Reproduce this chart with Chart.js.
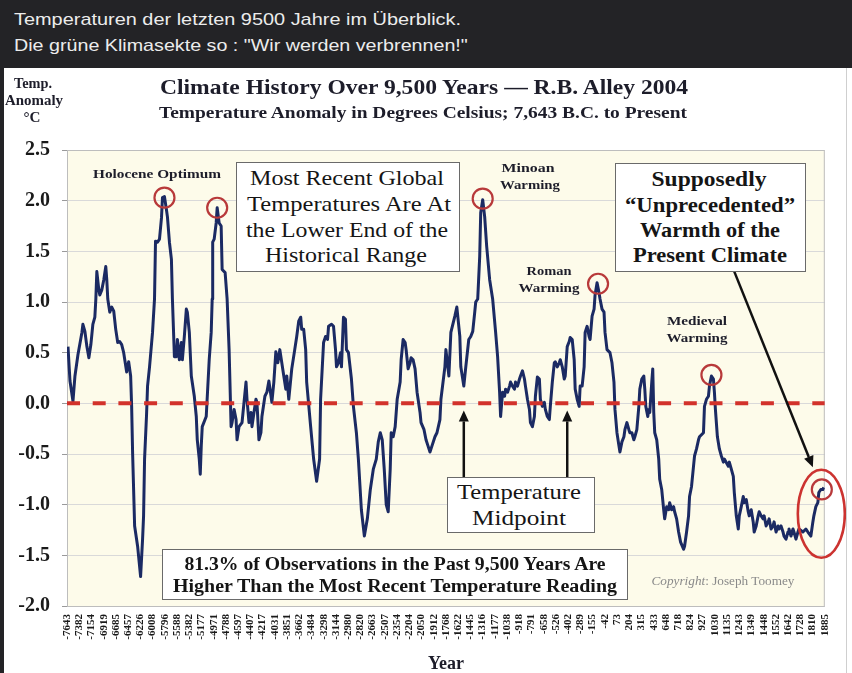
<!DOCTYPE html>
<html><head><meta charset="utf-8">
<script src="https://cdn.jsdelivr.net/npm/chart.js@4.4.1/dist/chart.umd.min.js"></script>
<style>
html,body{margin:0;padding:0;}
body{width:852px;height:673px;position:relative;overflow:hidden;background:#fff;font-family:'Liberation Serif',serif;}
#hdr{position:absolute;left:0;top:0;width:852px;height:68px;background:#232326;}
.hl{position:absolute;left:14px;color:#ececec;font:17px 'Liberation Sans',sans-serif;white-space:nowrap;line-height:1;transform-origin:0 50%;transform:translateY(-50%);}
#strip{position:absolute;left:0;top:68px;width:4px;height:605px;background:#232326;}
#wrap{position:absolute;left:4px;top:68px;width:842px;height:605px;border-right:1px solid #cfcfcf;}
canvas{display:block;}
.t{position:absolute;white-space:nowrap;line-height:1;color:#1d1d2a;font-weight:bold;transform:translate(-50%,-50%);}
.n{font-weight:normal;}
.box{position:absolute;background:#fff;border:1px solid #6a6a6a;box-sizing:border-box;}
.bx{color:#151515;}
</style></head>
<body>
<div id="hdr">
  <div class="hl" style="top:19px" data-w="447">Temperaturen der letzten 9500 Jahre im Überblick.</div>
  <div class="hl" style="top:45px" data-w="454">Die grüne Klimasekte so : "Wir werden verbrennen!"</div>
</div>
<div id="strip"></div>
<div id="wrap"><canvas id="c" width="842" height="605"></canvas></div>

<div class="t" style="left:424px;top:87px;font-size:22px" data-w="528">Climate History Over 9,500 Years — R.B. Alley 2004</div>
<div class="t" style="left:423px;top:113px;font-size:16px" data-w="528">Temperature Anomaly in Degrees Celsius; 7,643 B.C. to Present</div>
<div class="t" style="left:33px;top:84px;font-size:14px" data-w="38">Temp.</div>
<div class="t" style="left:34px;top:101px;font-size:14px" data-w="58">Anomaly</div>
<div class="t" style="left:32px;top:118px;font-size:14px" data-w="17">°C</div>

<div class="t" style="left:157px;top:173px;font-size:13px" data-w="128">Holocene Optimum</div>
<div class="t" style="left:528px;top:167px;font-size:13px" data-w="53">Minoan</div>
<div class="t" style="left:530px;top:184px;font-size:13px" data-w="60">Warming</div>
<div class="t" style="left:549px;top:270px;font-size:13px" data-w="45">Roman</div>
<div class="t" style="left:549px;top:287px;font-size:13px" data-w="61">Warming</div>
<div class="t" style="left:697px;top:320px;font-size:13px" data-w="60">Medieval</div>
<div class="t" style="left:697px;top:337px;font-size:13px" data-w="61">Warming</div>
<div class="t n" style="left:723px;top:580px;font-size:13px;color:#8a8a8a" data-w="143"><i>Copyright</i>: Joseph Toomey</div>

<div class="box" style="left:236px;top:162px;width:224px;height:110px"></div>
<div class="t n bx" style="left:347px;top:178px;font-size:21px" data-w="194">Most Recent Global</div>
<div class="t n bx" style="left:349px;top:204px;font-size:21px" data-w="204">Temperatures Are At</div>
<div class="t n bx" style="left:347px;top:230px;font-size:21px" data-w="202">the Lower End of the</div>
<div class="t n bx" style="left:346px;top:255px;font-size:21px" data-w="162">Historical Range</div>

<div class="box" style="left:615px;top:163px;width:191px;height:109px"></div>
<div class="t bx" style="left:709px;top:179px;font-size:21px" data-w="115">Supposedly</div>
<div class="t bx" style="left:710px;top:205px;font-size:21px" data-w="170">“Unprecedented”</div>
<div class="t bx" style="left:710px;top:230px;font-size:21px" data-w="140">Warmth of the</div>
<div class="t bx" style="left:710px;top:255px;font-size:21px" data-w="154">Present Climate</div>

<div class="box" style="left:447px;top:477px;width:148px;height:56px"></div>
<div class="t n bx" style="left:519px;top:492px;font-size:21px" data-w="124">Temperature</div>
<div class="t n bx" style="left:519px;top:518px;font-size:21px" data-w="94">Midpoint</div>

<div class="box" style="left:162px;top:549px;width:466px;height:51px"></div>
<div class="t bx" style="left:395px;top:564px;font-size:18px" data-w="421">81.3% of Observations in the Past 9,500 Years Are</div>
<div class="t bx" style="left:395px;top:586px;font-size:18px" data-w="444">Higher Than the Most Recent Temperature Reading</div>

<script>
// ---- data ----
const yearLabels = ['-7643','-7382','-7154','-6919','-6685','-6457','-6226','-6008','-5796','-5588','-5382','-5177','-4971','-4788','-4597','-4407','-4217','-4031','-3851','-3662','-3484','-3298','-3144','-2980','-2820','-2663','-2507','-2354','-2204','-2050','-1912','-1768','-1622','-1445','-1316','-1177','-1038','-918','-791','-658','-526','-402','-289','-155','-42','73','204','315','433','648','718','824','927','1030','1135','1243','1349','1448','1552','1642','1728','1810','1885'];
const sampleSpan = 1524; // number of samples across the category axis
const yTicks = [-2.0, -1.5, -1.0, -0.5, 0.0, 0.5, 1.0, 1.5, 2.0, 2.5];
const midpointLevel = [0, 0];
// [sample number, temperature anomaly °C]
const alleySeries = [
[2,0.56],[6,0.22],[12,0.02],[16,0.27],[22,0.48],[30,0.70],[32,0.78],[36,0.71],[40,0.56],[44,0.45],[48,0.58],[52,0.78],[56,0.85],[58,1.03],[60,1.30],[64,1.12],[66,1.07],[70,1.12],[74,1.22],[78,1.35],[80,1.22],[82,1.03],[86,0.90],[90,0.95],[94,0.91],[98,0.73],[102,0.60],[106,0.61],[110,0.58],[114,0.50],[120,0.31],[124,0.41],[128,0.27],[130,-0.03],[132,-0.50],[136,-1.21],[142,-1.41],[148,-1.71],[152,-1.34],[154,-1.11],[156,-0.55],[160,-0.11],[162,0.17],[166,0.36],[172,0.70],[176,1.03],[178,1.60],[182,1.59],[186,1.62],[190,1.83],[192,2.03],[196,2.04],[200,1.91],[202,1.84],[206,1.59],[210,1.42],[212,1.03],[216,0.46],[220,0.46],[222,0.63],[226,0.43],[230,0.60],[232,0.43],[236,0.66],[240,0.93],[242,0.90],[246,0.70],[250,0.27],[256,0.07],[260,-0.13],[262,-0.36],[266,-0.55],[268,-0.70],[270,-0.42],[272,-0.23],[280,-0.13],[286,0.43],[290,0.70],[292,1.03],[293,1.59],[296,1.62],[300,1.78],[302,1.93],[306,1.78],[310,1.75],[312,1.32],[318,1.29],[322,1.03],[326,0.53],[330,-0.23],[332,-0.19],[336,-0.06],[340,-0.16],[342,-0.36],[346,-0.23],[352,-0.19],[360,0.21],[362,0.04],[366,-0.19],[370,-0.09],[372,-0.23],[376,-0.09],[380,0.04],[382,0.01],[386,-0.36],[390,-0.29],[392,-0.13],[398,0.07],[402,0.11],[406,0.22],[412,0.01],[416,0.21],[420,0.51],[424,0.40],[428,0.53],[436,0.27],[440,0.14],[442,0.27],[446,0.04],[452,0.34],[458,0.53],[462,0.66],[466,0.81],[470,0.85],[472,0.73],[476,0.73],[480,0.53],[482,0.21],[490,-0.23],[496,-0.55],[502,-0.77],[508,-0.55],[510,0.04],[516,0.60],[520,0.66],[524,0.63],[526,0.76],[532,0.78],[536,0.76],[540,0.53],[542,0.36],[546,0.40],[550,0.50],[552,0.36],[556,0.85],[560,0.83],[562,0.53],[566,0.50],[572,0.24],[576,-0.03],[582,-0.29],[586,-0.55],[592,-1.05],[598,-1.31],[604,-1.14],[610,-0.85],[616,-0.65],[622,-0.55],[626,-0.38],[630,-0.29],[634,-0.36],[638,-0.65],[642,-1.00],[646,-1.07],[650,-0.65],[652,-0.29],[656,-0.33],[660,-0.23],[664,0.04],[670,0.21],[672,0.43],[676,0.63],[680,0.60],[682,0.53],[686,0.34],[690,0.40],[692,0.45],[696,0.43],[700,0.34],[704,0.11],[710,-0.09],[712,-0.19],[718,-0.26],[722,-0.36],[726,-0.42],[730,-0.48],[734,-0.42],[740,-0.33],[744,-0.29],[750,-0.16],[752,0.04],[760,0.36],[762,0.53],[768,0.27],[772,0.70],[780,0.86],[784,0.95],[790,0.66],[792,0.36],[798,0.17],[802,0.36],[808,0.63],[812,0.66],[816,0.71],[820,0.90],[822,1.00],[826,1.03],[830,1.45],[832,1.88],[836,2.01],[840,1.84],[844,1.55],[850,1.22],[856,1.03],[862,0.70],[866,0.46],[870,0.11],[872,-0.13],[876,0.11],[880,0.07],[882,0.14],[886,0.11],[890,0.17],[892,0.21],[896,0.17],[900,0.14],[902,0.21],[906,0.17],[910,0.24],[912,0.27],[916,0.32],[920,0.24],[922,0.17],[926,0.04],[930,-0.06],[932,-0.19],[936,-0.23],[940,-0.13],[942,0.07],[946,0.26],[950,0.24],[952,0.04],[956,-0.03],[960,0.01],[962,-0.06],[966,-0.13],[970,-0.16],[972,-0.03],[976,0.21],[980,0.40],[982,0.41],[986,0.36],[990,0.40],[992,0.43],[996,0.36],[1000,0.24],[1002,0.27],[1006,0.56],[1010,0.61],[1012,0.65],[1016,0.63],[1020,0.43],[1022,0.14],[1026,0.04],[1030,-0.03],[1032,0.17],[1036,0.17],[1040,0.36],[1042,0.70],[1046,0.76],[1050,0.66],[1052,0.63],[1056,0.86],[1060,0.93],[1062,1.07],[1066,1.19],[1070,1.09],[1072,1.03],[1076,0.93],[1080,0.90],[1082,0.70],[1086,0.53],[1092,0.50],[1096,0.40],[1100,0.21],[1102,-0.06],[1106,-0.29],[1110,-0.42],[1112,-0.48],[1116,-0.38],[1120,-0.33],[1122,-0.26],[1126,-0.19],[1130,-0.26],[1132,-0.29],[1136,-0.29],[1140,-0.36],[1142,-0.33],[1146,-0.26],[1150,-0.03],[1152,0.14],[1156,0.24],[1160,0.27],[1162,0.14],[1164,-0.03],[1168,-0.13],[1170,-0.06],[1172,-0.09],[1176,0.21],[1178,0.34],[1180,-0.09],[1182,-0.29],[1186,-0.36],[1190,-0.55],[1192,-0.75],[1196,-0.85],[1200,-1.05],[1202,-1.14],[1206,-1.02],[1210,-1.05],[1212,-0.98],[1216,-1.05],[1220,-1.02],[1222,-1.07],[1226,-1.14],[1230,-1.27],[1234,-1.37],[1240,-1.44],[1242,-1.41],[1246,-1.27],[1250,-1.11],[1252,-0.92],[1256,-0.82],[1260,-0.62],[1262,-0.52],[1266,-0.45],[1270,-0.36],[1272,-0.33],[1280,-0.29],[1282,-0.03],[1286,0.04],[1290,0.07],[1292,0.17],[1296,0.27],[1300,0.24],[1302,0.11],[1304,-0.06],[1308,-0.33],[1312,-0.45],[1316,-0.52],[1320,-0.58],[1322,-0.55],[1330,-0.62],[1332,-0.58],[1336,-0.65],[1340,-0.72],[1342,-0.88],[1346,-1.11],[1350,-1.24],[1352,-1.11],[1356,-1.02],[1360,-0.92],[1362,-0.98],[1366,-0.95],[1370,-1.07],[1372,-1.11],[1376,-1.05],[1380,-1.17],[1382,-1.27],[1386,-1.21],[1390,-1.11],[1392,-1.07],[1396,-1.11],[1400,-1.14],[1402,-1.11],[1406,-1.21],[1410,-1.17],[1412,-1.14],[1416,-1.24],[1420,-1.21],[1422,-1.17],[1426,-1.27],[1430,-1.21],[1432,-1.24],[1436,-1.21],[1440,-1.27],[1442,-1.31],[1446,-1.34],[1450,-1.27],[1452,-1.24],[1456,-1.31],[1460,-1.24],[1462,-1.27],[1466,-1.34],[1470,-1.27],[1472,-1.24],[1480,-1.27],[1486,-1.24],[1490,-1.27],[1496,-1.31],[1500,-1.17],[1502,-1.11],[1506,-1.02],[1510,-0.98],[1512,-0.88],[1516,-0.85],[1520,-0.85],[1522,-0.83]
];
// highlighted peaks (sample, anomaly)
const peakCircles = [[196,2.03],[302,1.93],[836,2.02],[1068,1.18],[1296,0.28],[1518,-0.85]];
const presentEllipse = [1517,-1.09];
// arrows: [fromSample, fromAnomaly, toSample, toAnomaly]
const arrows = [[1342,1.30,1500,-0.63],[798,-0.73,798,-0.07],[1006,-0.73,1006,-0.07]];

// ---- chart ----
const decor = {
  id: 'decor',
  beforeDraw(c) {
    const {ctx, chartArea: a} = c;
    ctx.save();
    ctx.fillStyle = '#fdfbea';
    ctx.fillRect(a.left, a.top, a.right - a.left, a.bottom - a.top);
    ctx.restore();
  },
  beforeDatasetsDraw(c) {
    const {ctx, chartArea: a} = c;
    ctx.save();
    ctx.strokeStyle = '#bdbdbd';
    ctx.lineWidth = 1;
    ctx.strokeRect(a.left + 0.5, a.top + 0.5, a.right - a.left - 1, a.bottom - a.top);
    ctx.restore();
  },
  afterDatasetsDraw(c) {
    const {ctx} = c;
    const X = v => c.scales.x.getPixelForValue(v);
    const Y = v => c.scales.y.getPixelForValue(v);
    ctx.save();
    ctx.strokeStyle = '#b8393a';
    ctx.lineWidth = 2.2;
    peakCircles.forEach(([s, t]) => {
      ctx.beginPath(); ctx.arc(X(s), Y(t), 10, 0, Math.PI * 2); ctx.stroke();
    });
    ctx.strokeStyle = '#cc3330';
    ctx.lineWidth = 2.6;
    ctx.beginPath();
    ctx.ellipse(X(presentEllipse[0]), Y(presentEllipse[1]), 23.5, 44, 0, 0, Math.PI * 2);
    ctx.stroke();
    ctx.strokeStyle = '#111'; ctx.fillStyle = '#111'; ctx.lineWidth = 2.5;
    arrows.forEach(([s0, t0, s1, t1]) => {
      const x0 = X(s0), y0 = Y(t0), x1 = X(s1), y1 = Y(t1);
      const ang = Math.atan2(y1 - y0, x1 - x0), L = 11, W = 5;
      const bx = x1 - L * Math.cos(ang), by = y1 - L * Math.sin(ang);
      ctx.beginPath(); ctx.moveTo(x0, y0); ctx.lineTo(bx, by); ctx.stroke();
      ctx.beginPath();
      ctx.moveTo(x1, y1);
      ctx.lineTo(bx + W * Math.sin(ang), by - W * Math.cos(ang));
      ctx.lineTo(bx - W * Math.sin(ang), by + W * Math.cos(ang));
      ctx.closePath(); ctx.fill();
    });
    ctx.restore();
  }
};

new Chart(document.getElementById('c'), {
  type: 'line',
  data: {
    datasets: [
      {
        label: 'Temperature Midpoint',
        data: midpointLevel.map((v, i) => ({x: i * sampleSpan, y: v})),
        borderColor: '#d2322b', borderWidth: 4, borderDash: [13, 12.7], borderCapStyle: 'butt',
        pointRadius: 0, order: 0
      },
      {
        label: 'Temperature Anomaly',
        data: alleySeries.map(([s, t]) => ({x: s, y: t})),
        borderColor: '#1b2a63', borderWidth: 3, pointRadius: 0, tension: 0,
        borderJoinStyle: 'round', order: 1
      }
    ]
  },
  options: {
    responsive: false, animation: false,
    layout: {padding: {top: 82, right: 17, left: 0, bottom: 0}},
    plugins: {legend: {display: false}, tooltip: {enabled: false}, title: {display: false}},
    scales: {
      x: {
        type: 'linear', min: 0, max: sampleSpan,
        afterBuildTicks: s => { s.ticks = yearLabels.map((_, i) => ({value: i * sampleSpan / (yearLabels.length - 1)})); },
        afterFit: s => { s.height = 67; },
        grid: {display: false, drawTicks: false},
        border: {display: false},
        ticks: {
          autoSkip: false, minRotation: 90, maxRotation: 90, padding: 8,
          color: '#1a1a1a', font: {family: "'Liberation Serif', serif", size: 11, weight: 'bold'},
          callback: (v, i) => yearLabels[i]
        },
        title: {display: true, text: 'Year', color: '#1d1d2a', padding: {top: 0, bottom: 0},
          font: {family: "'Liberation Serif', serif", size: 18, weight: 'bold', lineHeight: 1}}
      },
      y: {
        min: yTicks[0], max: yTicks[yTicks.length - 1],
        afterBuildTicks: s => { s.ticks = yTicks.map(v => ({value: v})); },
        afterFit: s => { s.width = 63; },
        grid: {color: '#d9d9d9', tickColor: '#9a9a9a', tickLength: 5, lineWidth: 1},
        border: {display: false},
        ticks: {
          padding: 12, color: '#1a1a1a',
          font: {family: "'Liberation Serif', serif", size: 20, weight: 'bold'},
          callback: v => Number(v).toFixed(1)
        }
      }
    }
  },
  plugins: [decor]
});

// scale text lines horizontally to the widths of the original lettering
function fitText() {
  document.querySelectorAll('[data-w]').forEach(el => {
    const base = el.classList.contains('hl') ? 'translateY(-50%)' : 'translate(-50%,-50%)';
    el.style.transform = base;
    const w = el.getBoundingClientRect().width;
    if (w > 0) el.style.transform = base + ' scaleX(' + (parseFloat(el.dataset.w) / w).toFixed(3) + ')';
  });
}
fitText();
if (document.fonts && document.fonts.ready) document.fonts.ready.then(fitText);
</script>
</body></html>
